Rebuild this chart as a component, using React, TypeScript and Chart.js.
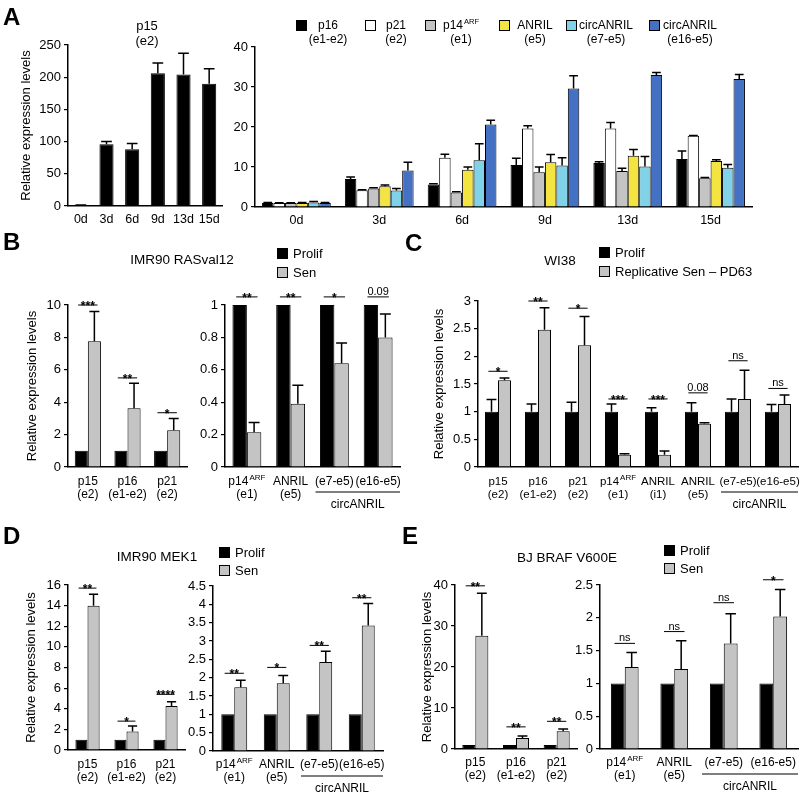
import React, { useEffect, useRef } from 'react';
import { Chart, registerables } from 'chart.js';

Chart.register(...registerables);

const FONT = '"Liberation Sans", Arial, Helvetica, sans-serif';

// ---------------- colours ----------------
const BLACK = '#000000';
const WHITE = '#ffffff';
const GRAY = '#c4c4c4';
const YELLOW = '#f3e441';
const CYAN = '#80d2e8';
const BLUE = '#4571c5';

// ---------------- Panel A ----------------
const aDays = ['0d', '3d', '6d', '9d', '13d', '15d'];
const aP15 = [1, 96, 88, 206, 204, 190];
const aP15Err = [0.5, 4, 9, 16, 33, 23];

const aP16 = [1, 7.0, 5.6, 10.5, 11.0, 12.0];
const aP16Err = [0.15, 0.5, 0.2, 1.7, 0.3, 2.0];
const aP21 = [1, 4.2, 12.3, 19.6, 19.6, 17.8];
const aP21Err = [0.05, 0.1, 0.9, 0.7, 1.5, 0.1];
const aP14 = [1, 4.6, 3.6, 8.7, 9.0, 7.2];
const aP14Err = [0.05, 0.2, 0.2, 1.3, 0.7, 0.2];
const aAnril = [1, 5.2, 9.3, 11.2, 12.8, 11.5];
const aAnrilErr = [0.1, 0.3, 0.7, 1.9, 1.6, 0.3];
const aCirc75 = [1.1, 4.1, 11.7, 10.4, 10.1, 9.8];
const aCirc75Err = [0.3, 0.5, 4.1, 1.9, 2.5, 0.8];
const aCirc165 = [1, 9.1, 20.6, 29.6, 33.0, 32.0];
const aCirc165Err = [0.1, 2.1, 1.1, 3.2, 0.6, 1.1];

// ---------------- shared category labels ----------------
const cycleLabels = [['p15', '(e2)'], ['p16', '(e1-e2)'], ['p21', '(e2)']];
const inkLabels = [['p14^ARF', '(e1)'], ['ANRIL', '(e5)'], ['(e7-e5)'], ['(e16-e5)']];
const cLabels = [
  ['p15', '(e2)'], ['p16', '(e1-e2)'], ['p21', '(e2)'], ['p14^ARF', '(e1)'],
  ['ANRIL', '(i1)'], ['ANRIL', '(e5)'], ['(e7-e5)'], ['(e16-e5)'],
];

// ---------------- Panel B : IMR90 RASval12 ----------------
const bLeftProlif = [1, 1, 1];
const bLeftSen = [7.77, 3.62, 2.27];
const bLeftSenErr = [1.83, 1.55, 0.73];
const bLeftSig = ['***', '**', '*'];
const bLeftSigAt = [10.0, 5.5, 3.35];

const bRightProlif = [1, 1, 1, 1];
const bRightSen = [0.215, 0.39, 0.64, 0.8];
const bRightSenErr = [0.06, 0.115, 0.125, 0.145];
const bRightSig = ['**', '**', '*', '0.09'];
const bRightSigAt = [1.05, 1.05, 1.05, 1.05];

// ---------------- Panel C : WI38 ----------------
const cProlif = [1, 1, 1, 1, 1, 1, 1, 1];
const cProlifErr = [0.22, 0.14, 0.17, 0.14, 0.07, 0.16, 0.23, 0.13];
const cSen = [1.57, 2.48, 2.2, 0.22, 0.22, 0.78, 1.23, 1.14];
const cSenErr = [0.04, 0.4, 0.52, 0.02, 0.07, 0.02, 0.52, 0.16];
const cSig = ['*', '**', '*', '***', '***', '0.08', 'ns', 'ns'];
const cSigAt = [1.73, 3.0, 2.87, 1.23, 1.23, 1.34, 1.92, 1.42];

// ---------------- Panel D : IMR90 MEK1 ----------------
const dLeftProlif = [1, 1, 1];
const dLeftSen = [14.0, 1.8, 4.27];
const dLeftSenErr = [1.1, 0.53, 0.42];
const dLeftSig = ['**', '*', '****'];
const dLeftSigAt = [15.7, 2.8, 5.4];

const dRightProlif = [1, 1, 1, 1];
const dRightSen = [1.74, 1.85, 2.43, 3.42];
const dRightSenErr = [0.19, 0.21, 0.29, 0.6];
const dRightSig = ['**', '*', '**', '**'];
const dRightSigAt = [2.12, 2.28, 2.88, 4.18];

// ---------------- Panel E : BJ BRAF V600E ----------------
const eLeftProlif = [1, 1, 1];
const eLeftSen = [27.6, 2.7, 4.3];
const eLeftSenErr = [10.4, 0.5, 0.6];
const eLeftSig = ['**', '**', '**'];
const eLeftSigAt = [39.8, 5.4, 6.75];

const eRightProlif = [1, 1, 1, 1];
const eRightSen = [1.25, 1.22, 1.61, 2.02];
const eRightSenErr = [0.22, 0.43, 0.45, 0.41];
const eRightSig = ['ns', 'ns', 'ns', '*'];
const eRightSigAt = [1.61, 1.79, 2.23, 2.58];

// ---------------- types ----------------
type Series = { data: number[]; err?: number[]; color: string };
type Spec = {
  box: [number, number, number, number];
  titleX?: number;
  max: number;
  step: number;
  labels: string[][];
  series: Series[];
  catPct: number;
  barPct: number;
  sig?: string[];
  sigAt?: number[];
  bracket?: [number, number];
  lab1: number;
  labSize?: number;
};

function drawRich(ctx: CanvasRenderingContext2D, text: string, cx: number, cy: number, size: number) {
  const parts = text.split('^');
  const base = parts[0];
  const sup = parts[1] || '';
  ctx.font = `${size}px ${FONT}`;
  const wb = ctx.measureText(base).width;
  ctx.font = `8px ${FONT}`;
  const ws = sup ? ctx.measureText(sup).width + 1 : 0;
  const x0 = cx - (wb + ws) / 2;
  ctx.textAlign = 'left';
  ctx.textBaseline = 'middle';
  ctx.fillStyle = '#000';
  ctx.font = `${size}px ${FONT}`;
  ctx.fillText(base, x0, cy);
  if (sup) {
    ctx.font = `8px ${FONT}`;
    ctx.fillText(sup, x0 + wb + 1, cy - 4);
  }
}

function makeOverlay(spec: Spec) {
  return {
    id: 'overlay',
    afterDraw(chart: any) {
      const ctx: CanvasRenderingContext2D = chart.ctx;
      const xs = chart.scales.x;
      const ys = chart.scales.y;
      const area = chart.chartArea;
      const n = spec.labels.length;
      const catW = (area.right - area.left) / n;
      const size = spec.labSize ?? 12;
      ctx.save();
      // error bars
      spec.series.forEach((s, di) => {
        if (!s.err) return;
        const meta = chart.getDatasetMeta(di);
        meta.data.forEach((bar: any, i: number) => {
          const e = s.err![i];
          if (!e) return;
          const v = s.data[i];
          const x = bar.x;
          const y0 = ys.getPixelForValue(v);
          const y1 = ys.getPixelForValue(v + e);
          const hw = bar.width * 0.38;
          ctx.strokeStyle = '#000';
          ctx.lineWidth = 1.5;
          ctx.beginPath();
          ctx.moveTo(x, y0);
          ctx.lineTo(x, y1);
          ctx.moveTo(x - hw, y1);
          ctx.lineTo(x + hw, y1);
          ctx.stroke();
        });
      });
      // x labels
      spec.labels.forEach((lines, i) => {
        const cx = xs.getPixelForValue(i);
        lines.forEach((line, li) => drawRich(ctx, line, cx, area.bottom + spec.lab1 + li * 13, size));
      });
      // significance marks
      if (spec.sig && spec.sigAt) {
        const half = catW * spec.catPct * 0.37;
        spec.sig.forEach((lab, i) => {
          const cx = xs.getPixelForValue(i);
          const ly = ys.getPixelForValue(spec.sigAt![i]);
          ctx.strokeStyle = '#000';
          ctx.lineWidth = 1;
          ctx.beginPath();
          ctx.moveTo(cx - half, ly);
          ctx.lineTo(cx + half, ly);
          ctx.stroke();
          ctx.fillStyle = '#000';
          ctx.textAlign = 'center';
          ctx.textBaseline = 'alphabetic';
          if (lab.indexOf('*') >= 0) {
            ctx.font = `bold 12px ${FONT}`;
            ctx.fillText(lab, cx, ly + 5);
          } else {
            ctx.font = `11px ${FONT}`;
            ctx.fillText(lab, cx, ly - 2);
          }
        });
      }
      // circANRIL bracket
      if (spec.bracket) {
        const [a, b] = spec.bracket;
        const x0 = area.left + a * catW + 3;
        const x1 = area.left + (b + 1) * catW;
        const by = area.bottom + 25;
        ctx.strokeStyle = '#000';
        ctx.lineWidth = 1.2;
        ctx.beginPath();
        ctx.moveTo(x0, by);
        ctx.lineTo(x1, by);
        ctx.stroke();
        ctx.fillStyle = '#000';
        ctx.font = `12px ${FONT}`;
        ctx.textAlign = 'center';
        ctx.textBaseline = 'middle';
        ctx.fillText('circANRIL', (x0 + x1) / 2, area.bottom + 38);
      }
      ctx.restore();
    },
  };
}

function BarPanel({ spec }: { spec: Spec }) {
  const ref = useRef<HTMLCanvasElement>(null);
  const [L, T, R, B] = spec.box;
  const cl = spec.titleX !== undefined ? Math.round(spec.titleX - 8) : L - 44;
  const ct = T - 26;
  const cr = Math.min(800, R + 3);
  const cb = Math.min(793, B + 47);
  const w = cr - cl;
  const h = cb - ct;

  useEffect(() => {
    const chart = new Chart(ref.current as HTMLCanvasElement, {
      type: 'bar',
      data: {
        labels: spec.labels.map((l) => l.join(' ')),
        datasets: spec.series.map((s) => ({
          data: s.data,
          backgroundColor: s.color,
          borderColor: '#000',
          borderWidth: 1,
          barPercentage: spec.barPct,
          categoryPercentage: spec.catPct,
        })),
      },
      options: {
        responsive: false,
        animation: false,
        devicePixelRatio: 1,
        layout: { padding: { top: T - ct, right: cr - R, left: 0, bottom: 0 } },
        plugins: {
          legend: { display: false },
          tooltip: { enabled: false },
          title: { display: false },
        },
        scales: {
          x: {
            type: 'category',
            offset: true,
            grid: { display: false },
            border: { display: true, color: '#000', width: 1.5 },
            ticks: { display: false },
            afterFit: (s: any) => {
              s.height = cb - B;
            },
          },
          y: {
            min: 0,
            max: spec.max,
            ticks: {
              stepSize: spec.step,
              autoSkip: false,
              color: '#000',
              font: { family: FONT, size: 13 },
              padding: 3,
              callback: (v: any) => String(Math.round(Number(v) * 100) / 100),
            },
            grid: {
              display: true,
              drawOnChartArea: false,
              drawTicks: true,
              tickLength: 4,
              color: '#000',
              lineWidth: 1.2,
            },
            border: { display: true, color: '#000', width: 1.5 },
            title:
              spec.titleX !== undefined
                ? {
                    display: true,
                    text: 'Relative expression levels',
                    color: '#000',
                    font: { family: FONT, size: 13 },
                    padding: 0,
                  }
                : { display: false },
            afterFit: (s: any) => {
              s.width = L - cl;
            },
          },
        },
      } as any,
      plugins: [makeOverlay(spec) as any],
    });
    return () => chart.destroy();
  }, []);

  return (
    <canvas
      ref={ref}
      width={w}
      height={h}
      style={{ position: 'absolute', left: cl, top: ct, width: w, height: h }}
    />
  );
}

function Txt(props: { x: number; y: number; s?: number; b?: boolean; l?: boolean; children: any }) {
  return (
    <div
      style={{
        position: 'absolute',
        left: props.x,
        top: props.y,
        transform: props.l ? 'translateY(-50%)' : 'translate(-50%,-50%)',
        fontFamily: FONT,
        fontSize: props.s ?? 13,
        fontWeight: props.b ? 'bold' : 'normal',
        whiteSpace: 'nowrap',
        lineHeight: 1,
        color: '#000',
      }}
    >
      {props.children}
    </div>
  );
}

function Sq({ x, y, c }: { x: number; y: number; c: string }) {
  return (
    <div
      style={{
        position: 'absolute',
        left: x,
        top: y,
        width: 11,
        height: 11,
        background: c,
        border: '1px solid #000',
        boxSizing: 'border-box',
      }}
    />
  );
}

const ARF = (
  <span>
    p14<span style={{ fontSize: 7.5, position: 'relative', top: -5, marginLeft: 1 }}>ARF</span>
  </span>
);

const aLegend: { c: string; l1: any; l2: string; sx: number; tx: number }[] = [
  { c: BLACK, l1: 'p16', l2: '(e1-e2)', sx: 296, tx: 328 },
  { c: WHITE, l1: 'p21', l2: '(e2)', sx: 365, tx: 396 },
  { c: GRAY, l1: ARF, l2: '(e1)', sx: 425, tx: 461 },
  { c: YELLOW, l1: 'ANRIL', l2: '(e5)', sx: 499, tx: 535 },
  { c: CYAN, l1: 'circANRIL', l2: '(e7-e5)', sx: 566, tx: 606 },
  { c: BLUE, l1: 'circANRIL', l2: '(e16-e5)', sx: 649, tx: 690 },
];

export default function App() {
  const specs: Spec[] = [
    {
      box: [68, 45, 222, 206], titleX: 27, max: 250, step: 50,
      labels: aDays.map((d) => [d]),
      series: [{ data: aP15, err: aP15Err, color: BLACK }],
      catPct: 1, barPct: 0.55, lab1: 14, labSize: 12.5,
    },
    {
      box: [255, 47, 752, 207], max: 40, step: 10,
      labels: aDays.map((d) => [d]),
      series: [
        { data: aP16, err: aP16Err, color: BLACK },
        { data: aP21, err: aP21Err, color: WHITE },
        { data: aP14, err: aP14Err, color: GRAY },
        { data: aAnril, err: aAnrilErr, color: YELLOW },
        { data: aCirc75, err: aCirc75Err, color: CYAN },
        { data: aCirc165, err: aCirc165Err, color: BLUE },
      ],
      catPct: 0.83, barPct: 1, lab1: 14, labSize: 12.5,
    },
    {
      box: [68, 305, 187, 467], titleX: 33, max: 10, step: 2,
      labels: cycleLabels,
      series: [
        { data: bLeftProlif, color: BLACK },
        { data: bLeftSen, err: bLeftSenErr, color: GRAY },
      ],
      catPct: 0.66, barPct: 1, sig: bLeftSig, sigAt: bLeftSigAt, lab1: 15,
    },
    {
      box: [225, 305, 400, 467], max: 1, step: 0.2,
      labels: inkLabels,
      series: [
        { data: bRightProlif, color: BLACK },
        { data: bRightSen, err: bRightSenErr, color: GRAY },
      ],
      catPct: 0.66, barPct: 1, sig: bRightSig, sigAt: bRightSigAt, bracket: [2, 3], lab1: 15,
    },
    {
      box: [478, 301, 798, 467], titleX: 440, max: 3, step: 0.5,
      labels: cLabels,
      series: [
        { data: cProlif, err: cProlifErr, color: BLACK },
        { data: cSen, err: cSenErr, color: GRAY },
      ],
      catPct: 0.65, barPct: 1, sig: cSig, sigAt: cSigAt, bracket: [6, 7], lab1: 15, labSize: 11.5,
    },
    {
      box: [68, 585, 185, 750], titleX: 32, max: 16, step: 2,
      labels: cycleLabels,
      series: [
        { data: dLeftProlif, color: BLACK },
        { data: dLeftSen, err: dLeftSenErr, color: GRAY },
      ],
      catPct: 0.62, barPct: 1, sig: dLeftSig, sigAt: dLeftSigAt, lab1: 15,
    },
    {
      box: [213, 586, 383, 751], max: 4.5, step: 0.5,
      labels: inkLabels,
      series: [
        { data: dRightProlif, color: BLACK },
        { data: dRightSen, err: dRightSenErr, color: GRAY },
      ],
      catPct: 0.61, barPct: 1, sig: dRightSig, sigAt: dRightSigAt, bracket: [2, 3], lab1: 14,
    },
    {
      box: [455, 585, 577, 749], titleX: 428, max: 40, step: 10,
      labels: cycleLabels,
      series: [
        { data: eLeftProlif, color: BLACK },
        { data: eLeftSen, err: eLeftSenErr, color: GRAY },
      ],
      catPct: 0.64, barPct: 1, sig: eLeftSig, sigAt: eLeftSigAt, lab1: 14,
    },
    {
      box: [600, 585, 798, 749], max: 2.5, step: 0.5,
      labels: inkLabels,
      series: [
        { data: eRightProlif, color: BLACK },
        { data: eRightSen, err: eRightSenErr, color: GRAY },
      ],
      catPct: 0.56, barPct: 1, sig: eRightSig, sigAt: eRightSigAt, bracket: [2, 3], lab1: 14,
    },
  ];

  return (
    <div
      style={{
        position: 'fixed', left: 0, top: 0, width: 800, height: 793,
        background: '#fff', overflow: 'hidden',
      }}
    >
      {specs.map((s, i) => (
        <BarPanel key={i} spec={s} />
      ))}

      {/* Panel letters */}
      <Txt x={3} y={17} s={24} b l>A</Txt>
      <Txt x={3} y={242} s={24} b l>B</Txt>
      <Txt x={405} y={243} s={24} b l>C</Txt>
      <Txt x={3} y={536} s={24} b l>D</Txt>
      <Txt x={402} y={536} s={24} b l>E</Txt>

      {/* Panel A */}
      <Txt x={147} y={25}>p15</Txt>
      <Txt x={147} y={40}>(e2)</Txt>
      {aLegend.map((it, i) => (
        <React.Fragment key={i}>
          <Sq x={it.sx} y={20} c={it.c} />
          <Txt x={it.tx} y={25} s={12}>{it.l1}</Txt>
          <Txt x={it.tx} y={39} s={12}>{it.l2}</Txt>
        </React.Fragment>
      ))}

      {/* Panel B */}
      <Txt x={182} y={260} s={13.5}>IMR90 RASval12</Txt>
      <Sq x={277} y={248} c={BLACK} />
      <Txt x={293} y={253} l>Prolif</Txt>
      <Sq x={277} y={267} c={GRAY} />
      <Txt x={293} y={272} l>Sen</Txt>

      {/* Panel C */}
      <Txt x={560} y={261} s={13.5}>WI38</Txt>
      <Sq x={599} y={247} c={BLACK} />
      <Txt x={615} y={252} l>Prolif</Txt>
      <Sq x={599} y={266} c={GRAY} />
      <Txt x={615} y={271} l>Replicative Sen – PD63</Txt>

      {/* Panel D */}
      <Txt x={157} y={557} s={13.5}>IMR90 MEK1</Txt>
      <Sq x={219} y={547} c={BLACK} />
      <Txt x={235} y={552} l>Prolif</Txt>
      <Sq x={219} y={565} c={GRAY} />
      <Txt x={235} y={570} l>Sen</Txt>

      {/* Panel E */}
      <Txt x={567} y={558} s={13.5}>BJ BRAF V600E</Txt>
      <Sq x={664} y={545} c={BLACK} />
      <Txt x={680} y={550} l>Prolif</Txt>
      <Sq x={664} y={563} c={GRAY} />
      <Txt x={680} y={568} l>Sen</Txt>
    </div>
  );
}
